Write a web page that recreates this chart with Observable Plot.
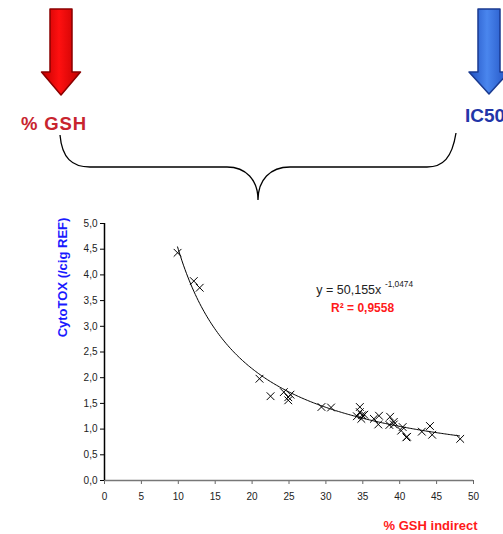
<!DOCTYPE html>
<html>
<head>
<meta charset="utf-8">
<script src="https://cdn.jsdelivr.net/npm/d3@7"></script>
<script src="https://cdn.jsdelivr.net/npm/@observablehq/plot@0.6"></script>
<style>
  html, body { margin: 0; padding: 0; background: #fff; overflow: hidden; }
  #wrap { position: relative; width: 503px; height: 534px; font-family: "Liberation Sans", Arial, sans-serif; }
  #wrap > svg { position: absolute; left: 0; top: 0; }
  #deco { pointer-events: none; }
</style>
</head>
<body>
<div id="wrap"></div>
<script>
// ---- data ----
const gshIndirect = [9.9, 12.1, 12.9, 21.0, 22.5, 24.3, 25.2, 24.9, 24.9, 29.4, 30.7, 34.6, 34.2, 34.6, 34.9, 35.2, 34.8, 36.5, 37.2, 37.1, 38.7, 39.2, 38.6, 39.2, 40.4, 40.2, 40.9, 41.0, 43.0, 44.1, 44.4, 48.2];
const cytoTox    = [4.43, 3.88, 3.75, 1.98, 1.64, 1.72, 1.67, 1.56, 1.62, 1.43, 1.42, 1.43, 1.25, 1.33, 1.27, 1.28, 1.20, 1.20, 1.26, 1.09, 1.24, 1.14, 1.08, 1.09, 1.04, 0.97, 0.84, 0.85, 0.95, 1.06, 0.89, 0.81];
const xTicks = [0, 5, 10, 15, 20, 25, 30, 35, 40, 45, 50];
const yTicks = [0, 0.5, 1, 1.5, 2, 2.5, 3, 3.5, 4, 4.5, 5];
// power trendline as printed on the chart: y = 50,155 x^-1,0474
const fitCoef = 50.155;
const fitExp = -1.0474;
const fitRange = [9.9, 48.2];
const eqText = "y = 50,155x";
const eqExpText = "-1,0474";
const r2Text = "R² = 0,9558";
const xLabel = "% GSH indirect";
const yLabel = "CytoTOX (/cig REF)";

const points = gshIndirect.map((x, i) => ({x, y: cytoTox[i]}));
const fitX = d3.range(fitRange[0], fitRange[1] + 0.001, 0.2);
const fit = fitX.map(x => ({x, y: fitCoef * Math.pow(x, fitExp)}));
const fmt = d => d.toFixed(1).replace(".", ",");
const font = "Liberation Sans, Arial, sans-serif";

const chart = Plot.plot({
  width: 503,
  height: 534,
  marginTop: 223,
  marginBottom: 54,
  marginLeft: 104,
  marginRight: 30,
  style: {fontFamily: font, background: "transparent"},
  x: {domain: [0, 50], axis: null},
  y: {domain: [0, 5], axis: null},
  marks: [
    Plot.axisX(xTicks, {tickSize: 4, tickPadding: 8, fontSize: 10, stroke: "#666", fill: "#222", label: null}),
    Plot.axisY(yTicks, {tickSize: 4, tickPadding: 3, fontSize: 10, stroke: "#000", fill: "#222", tickFormat: fmt, label: null}),
    Plot.ruleY([0], {stroke: "#777", strokeWidth: 1.5}),
    Plot.ruleX([0], {stroke: "#000", strokeWidth: 1.5}),
    Plot.line(fit, {x: "x", y: "y", stroke: "#000", strokeWidth: 1, curve: "natural"}),
    Plot.dot(points, {x: "x", y: "y", symbol: "times", r: 3.6, stroke: "#000", strokeWidth: 1}),
    Plot.text([eqText], {x: 28.7, y: 3.70, textAnchor: "start", fontSize: 12.5, fill: "#222"}),
    Plot.text([eqExpText], {x: 38.0, y: 3.82, textAnchor: "start", fontSize: 8.3, fill: "#222"}),
    Plot.text([r2Text], {x: 30.7, y: 3.35, textAnchor: "start", fontSize: 12, fontWeight: "bold", fill: "#ff1a1a"}),
    Plot.text([yLabel], {frameAnchor: "top-left", textAnchor: "middle", rotate: -90, dx: -47, dy: 54, fontSize: 13, fontWeight: "bold", fill: "#1a1aff"}),
    Plot.text([xLabel], {frameAnchor: "bottom-right", textAnchor: "end", dx: 4, dy: 49, fontSize: 13, fontWeight: "bold", fill: "#ff1a1a"})
  ]
});
document.getElementById("wrap").appendChild(chart);

// ---- decorations: arrows, labels and brace ----
const deco = d3.select("#wrap").append("svg")
  .attr("id", "deco").attr("width", 503).attr("height", 534);
const defs = deco.append("defs");
function grad(id, c0, c1) {
  const g = defs.append("linearGradient").attr("id", id).attr("x1", 0).attr("x2", 1).attr("y1", 0).attr("y2", 0);
  g.append("stop").attr("offset", "0%").attr("stop-color", c0);
  g.append("stop").attr("offset", "45%").attr("stop-color", c1);
  g.append("stop").attr("offset", "100%").attr("stop-color", c0);
}
grad("gRed", "#c00000", "#ff1010");
grad("gBlue", "#2050c0", "#4a86ee");
function arrow(cx, bodyHalf, headHalf, top, headY, tip, fill, stroke) {
  const p = [[cx - bodyHalf, top], [cx + bodyHalf, top], [cx + bodyHalf, headY], [cx + headHalf, headY],
             [cx, tip], [cx - headHalf, headY], [cx - bodyHalf, headY]];
  deco.append("path").attr("d", "M" + p.map(d => d.join(",")).join("L") + "Z")
    .attr("fill", fill).attr("stroke", stroke).attr("stroke-width", 1.5).attr("stroke-linejoin", "round");
}
arrow(61, 11, 19.5, 9, 72, 95, "url(#gRed)", "#8a0000");
arrow(489, 11, 20, 9, 72, 94, "url(#gBlue)", "#1a3a90");
deco.append("text").attr("x", 21).attr("y", 130).attr("font-size", 18.5).attr("font-weight", "bold")
  .attr("font-family", font).attr("fill", "#c8242e").attr("textLength", 65).text("% GSH");
deco.append("text").attr("x", 465).attr("y", 122).attr("font-size", 19).attr("font-weight", "bold")
  .attr("font-family", font).attr("fill", "#2236a8").text("IC50");
deco.append("path")
  .attr("d", "M60,135 C62,158 72,167 90,167 L227,167 C246,167 258,180 258,200 C258,180 270,167 290,167 L427,167 C443,167 452,158 456,133")
  .attr("fill", "none").attr("stroke", "#000").attr("stroke-width", 1.3);
</script>
</body>
</html>
